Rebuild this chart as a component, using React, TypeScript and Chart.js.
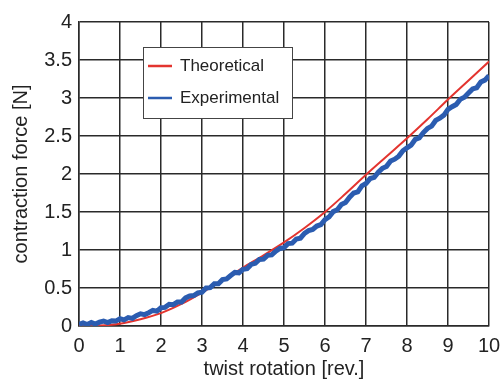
import React, { useEffect, useRef } from "react";
import { Chart, registerables } from "chart.js";

Chart.register(...registerables);

const xTicks = [0, 1, 2, 3, 4, 5, 6, 7, 8, 9, 10];
const yTicks = [0, 0.5, 1, 1.5, 2, 2.5, 3, 3.5, 4];
const xTickLabels = ["0", "1", "2", "3", "4", "5", "6", "7", "8", "9", "10"];
const yTickLabels = ["0", "0.5", "1", "1.5", "2", "2.5", "3", "3.5", "4"];

const theoX = [0, 0.5, 1, 1.5, 2, 2.5, 3, 3.5, 4, 4.5, 5, 5.5, 6, 6.5, 7, 7.5, 8, 8.5, 9, 9.5, 10];
const theoY = [0, 0.005, 0.03, 0.09, 0.17, 0.29, 0.44, 0.6, 0.77, 0.93, 1.1, 1.29, 1.5, 1.74, 1.99, 2.23, 2.47, 2.72, 2.98, 3.23, 3.48];

// experimental samples every 0.1 rev. (noisy measurement)
const expY = [
  0.02, 0.04, 0.02, 0.045, 0.025, 0.05, 0.065, 0.045, 0.07, 0.065, 0.095,
  0.08, 0.11, 0.1, 0.135, 0.16, 0.15, 0.175, 0.205, 0.195, 0.24,
  0.245, 0.285, 0.28, 0.315, 0.315, 0.37, 0.395, 0.4, 0.435, 0.445,
  0.5, 0.505, 0.555, 0.555, 0.61, 0.62, 0.665, 0.705, 0.7, 0.745,
  0.755, 0.81, 0.825, 0.875, 0.88, 0.93, 0.935, 0.985, 1.02, 1.03,
  1.085, 1.09, 1.145, 1.155, 1.22, 1.255, 1.27, 1.315, 1.335, 1.4,
  1.435, 1.505, 1.53, 1.6, 1.625, 1.695, 1.75, 1.765, 1.845, 1.875,
  1.94, 1.955, 2.025, 2.075, 2.1, 2.17, 2.195, 2.235, 2.305, 2.345,
  2.38, 2.455, 2.475, 2.545, 2.6, 2.63, 2.705, 2.735, 2.775, 2.85,
  2.885, 2.915, 2.985, 3.01, 3.065, 3.12, 3.135, 3.21, 3.235, 3.295,
];
const expStep = 0.1;

const seriesNames = ["Theoretical", "Experimental"];
const seriesColors = ["#e3342f", "#2b5cb0"];
const xTitle = "twist rotation [rev.]";
const yTitle = "contraction force [N]";

const FONT = "'Liberation Sans', Arial, sans-serif";
const TEXT = "#222";
const GRID = "#2a2a2a";

const legendPlugin = {
  id: "insideLegend",
  afterDraw(chart: any) {
    const ctx = chart.ctx;
    const { left, top } = chart.chartArea;
    const bx = left + 64;
    const by = top + 25;
    const bw = 149;
    const bh = 71;
    ctx.save();
    ctx.fillStyle = "#fff";
    ctx.fillRect(bx, by, bw, bh);
    ctx.strokeStyle = "#444";
    ctx.lineWidth = 1;
    ctx.strokeRect(bx + 0.5, by + 0.5, bw, bh);
    ctx.font = `17px ${FONT}`;
    ctx.textBaseline = "middle";
    const rows = [by + 19, by + 51];
    seriesNames.forEach((name, i) => {
      ctx.strokeStyle = seriesColors[i];
      ctx.lineWidth = 2.5;
      ctx.beginPath();
      ctx.moveTo(bx + 5, rows[i]);
      ctx.lineTo(bx + 29, rows[i]);
      ctx.stroke();
      ctx.fillStyle = TEXT;
      ctx.fillText(name, bx + 37, rows[i]);
    });
    ctx.restore();
  },
};

export default function App() {
  const ref = useRef<HTMLCanvasElement>(null);
  useEffect(() => {
    if (!ref.current) return;
    const chart = new Chart(ref.current, {
      type: "line",
      data: {
        datasets: [
          {
            label: seriesNames[0],
            data: theoX.map((x, i) => ({ x, y: theoY[i] })),
            borderColor: seriesColors[0],
            borderWidth: 2,
            pointRadius: 0,
            tension: 0.3,
            cubicInterpolationMode: "monotone",
            order: 1,
          },
          {
            label: seriesNames[1],
            data: expY.map((y, i) => ({ x: i * expStep, y })),
            borderColor: seriesColors[1],
            borderWidth: 5,
            pointRadius: 0,
            tension: 0,
            order: 0,
          },
        ],
      },
      options: {
        animation: false,
        responsive: false,
        maintainAspectRatio: false,
        layout: { padding: { left: 0, top: 22, right: 15, bottom: 0 } },
        plugins: { legend: { display: false }, tooltip: { enabled: false } },
        scales: {
          x: {
            type: "linear",
            min: 0,
            max: 10,
            afterBuildTicks: (s: any) => {
              s.ticks = xTicks.map((v) => ({ value: v }));
            },
            afterFit: (s: any) => {
              s.height = 55;
              s.paddingLeft = 0;
              s.paddingRight = 0;
            },
            grid: { color: GRID, lineWidth: 1.5, drawTicks: false },
            border: { color: GRID, width: 1.5 },
            ticks: {
              color: TEXT,
              font: { family: FONT, size: 20 },
              padding: 8,
              maxRotation: 0,
              callback: (v: any) => xTickLabels[xTicks.indexOf(Number(v))] ?? "",
            },
            title: {
              display: true,
              text: xTitle,
              color: TEXT,
              font: { family: FONT, size: 20 },
              padding: { top: 0, bottom: 0 },
            },
          },
          y: {
            type: "linear",
            min: 0,
            max: 4,
            afterBuildTicks: (s: any) => {
              s.ticks = yTicks.map((v) => ({ value: v }));
            },
            afterFit: (s: any) => {
              s.width = 79;
              s.paddingTop = 0;
              s.paddingBottom = 0;
            },
            grid: { color: GRID, lineWidth: 1.5, drawTicks: false },
            border: { color: GRID, width: 1.5 },
            ticks: {
              color: TEXT,
              font: { family: FONT, size: 20 },
              padding: 7,
              callback: (v: any) => yTickLabels[yTicks.indexOf(Number(v))] ?? "",
            },
            title: {
              display: true,
              text: yTitle,
              color: TEXT,
              font: { family: FONT, size: 20 },
              padding: { top: 9, bottom: 0 },
            },
          },
        },
      },
      plugins: [legendPlugin],
    } as any);
    return () => chart.destroy();
  }, []);
  return (
    <div style={{ position: "fixed", left: 0, top: 0, width: 504, height: 381, background: "#fff" }}>
      <canvas ref={ref} width={504} height={381} style={{ display: "block" }} />
    </div>
  );
}
